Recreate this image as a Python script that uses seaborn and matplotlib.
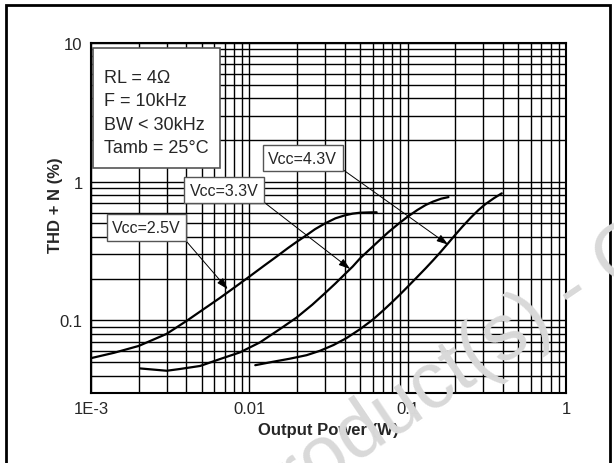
import numpy as np
import pandas as pd
import matplotlib
matplotlib.use("Agg")
import matplotlib.pyplot as plt
import matplotlib.ticker as mticker
from matplotlib.patches import Rectangle
import seaborn as sns

# curves
vcc_labels = ["Vcc=2.5V", "Vcc=3.3V", "Vcc=4.3V"]

power_25 = [0.001, 0.0014, 0.002, 0.003, 0.004, 0.005, 0.0065, 0.008, 0.01,
            0.0125, 0.015, 0.0175, 0.02, 0.0225, 0.026, 0.03, 0.035, 0.04,
            0.045, 0.05, 0.057, 0.0637]
thd_25 = [0.0535, 0.0585, 0.0655, 0.080, 0.099, 0.118, 0.145, 0.172, 0.207,
          0.25, 0.291, 0.332, 0.37, 0.405, 0.455, 0.50, 0.545, 0.572,
          0.589, 0.598, 0.601, 0.602]

power_33 = [0.00204, 0.00301, 0.00365, 0.00489, 0.00653, 0.00873, 0.01167, 0.0156,
            0.0199, 0.025, 0.03, 0.035, 0.04, 0.045, 0.05, 0.057, 0.065, 0.075,
            0.087, 0.1, 0.115, 0.13, 0.145, 0.163, 0.181]
thd_33 = [0.0451, 0.0434, 0.0447, 0.047, 0.0527, 0.0589, 0.0695, 0.0867,
          0.105, 0.130, 0.157, 0.185, 0.215, 0.245, 0.28, 0.322, 0.37, 0.43,
          0.495, 0.56, 0.625, 0.68, 0.72, 0.755, 0.775]

power_43 = [0.0109, 0.014, 0.018, 0.023, 0.028, 0.034, 0.041, 0.05, 0.06, 0.07,
            0.08, 0.09, 0.1, 0.115, 0.13, 0.145, 0.16, 0.18, 0.2, 0.22, 0.25,
            0.28, 0.31, 0.35, 0.393]
thd_43 = [0.0476, 0.0503, 0.053, 0.0562, 0.0605, 0.0665, 0.0745, 0.0865, 0.101,
          0.118, 0.136, 0.155, 0.175, 0.206, 0.238, 0.272, 0.308, 0.36, 0.415,
          0.47, 0.55, 0.625, 0.69, 0.76, 0.825]

# where the label arrows point
arrow_power = [0.0073, 0.0433, 0.18]
arrow_thd = [0.168, 0.235, 0.352]

info_lines = ["RL = 4\u03a9", "F = 10kHz", "BW < 30kHz", "Tamb = 25\u00b0C"]

x_ticks = [1e-3, 1e-2, 1e-1, 1]
x_tick_labels = ["1E-3", "0.01", "0.1", "1"]
y_ticks = [0.1, 1, 10]
y_tick_labels = ["0.1", "1", "10"]

df = pd.concat([
    pd.DataFrame({"power": power_25, "thd": thd_25, "vcc": vcc_labels[0]}),
    pd.DataFrame({"power": power_33, "thd": thd_33, "vcc": vcc_labels[1]}),
    pd.DataFrame({"power": power_43, "thd": thd_43, "vcc": vcc_labels[2]}),
])

sns.set_theme(style="white")
plt.rcParams["font.family"] = ["Liberation Sans", "DejaVu Sans"]

fig, ax = plt.subplots(figsize=(6.14, 4.64), dpi=100)
fig.subplots_adjust(left=91 / 614, right=566 / 614, bottom=1 - 394 / 464, top=1 - 44 / 464)

sns.lineplot(data=df, x="power", y="thd", hue="vcc", palette=["black"] * 3,
             estimator=None, sort=False, linewidth=1.6, legend=False, ax=ax)

ax.set_xscale("log")
ax.set_yscale("log")
ax.set_xlim(1e-3, 1)
ax.set_ylim(0.03, 10)

ax.xaxis.set_major_locator(mticker.FixedLocator(x_ticks))
ax.xaxis.set_major_formatter(mticker.FixedFormatter(x_tick_labels))
ax.yaxis.set_major_locator(mticker.FixedLocator(y_ticks))
ax.yaxis.set_major_formatter(mticker.FixedFormatter(y_tick_labels))
for axis in (ax.xaxis, ax.yaxis):
    axis.set_minor_locator(mticker.LogLocator(base=10, subs=np.arange(2, 10)))
    axis.set_minor_formatter(mticker.NullFormatter())

ax.grid(True, which="both", color="black", linewidth=1.0)
ax.tick_params(which="both", direction="in", length=3, width=1, color="black")
ax.tick_params(which="major", labelsize=12, pad=6)
for s in ax.spines.values():
    s.set_color("black")
    s.set_linewidth(1.5)

ax.set_xlabel("Output Power (W)", fontsize=12, fontweight="bold", labelpad=4)
ax.set_ylabel("THD + N (%)", fontsize=12, fontweight="bold")
ax.yaxis.set_label_coords(-0.058, 0.54)

# conditions box
ax.add_patch(Rectangle((0.004, 0.643), 0.267, 0.343, transform=ax.transAxes,
                       facecolor="white", edgecolor="#555555", linewidth=1.2, zorder=4))
for i, line in enumerate(info_lines):
    ax.text(0.027, 0.889 - i * 0.067, line, transform=ax.transAxes, fontsize=13,
            ha="left", va="baseline", zorder=5)

# Vcc labels with arrows
label_pos = [(0.117, 0.473), (0.280, 0.579), (0.446, 0.671)]
for lab, px, py, (tx, ty) in zip(vcc_labels, arrow_power, arrow_thd, label_pos):
    ax.annotate(lab, xy=(px, py), xytext=(tx, ty), textcoords="axes fraction",
                ha="center", va="center", fontsize=11.5, zorder=6,
                bbox=dict(boxstyle="square,pad=0.35", fc="white", ec="#555555", lw=1),
                arrowprops=dict(arrowstyle="-|>,head_length=0.6,head_width=0.2",
                                color="black", lw=0.7, relpos=(1, 0),
                                shrinkA=0, shrinkB=0))

# outer frame
fig.patches.append(Rectangle((6 / 614, -0.05), 604 / 614, 1 - 6 / 464 + 0.05,
                             transform=fig.transFigure, fill=False,
                             edgecolor="black", linewidth=2, clip_on=False))

# watermark
fig.text(0.933, 0.371, "Obsolete Product(s) - Obsolete Product(s)", rotation=34,
         rotation_mode="anchor", ha="center", va="center", fontsize=57,
         color="#d9d9d9", zorder=10)

plt.savefig("out.png", dpi=100)
